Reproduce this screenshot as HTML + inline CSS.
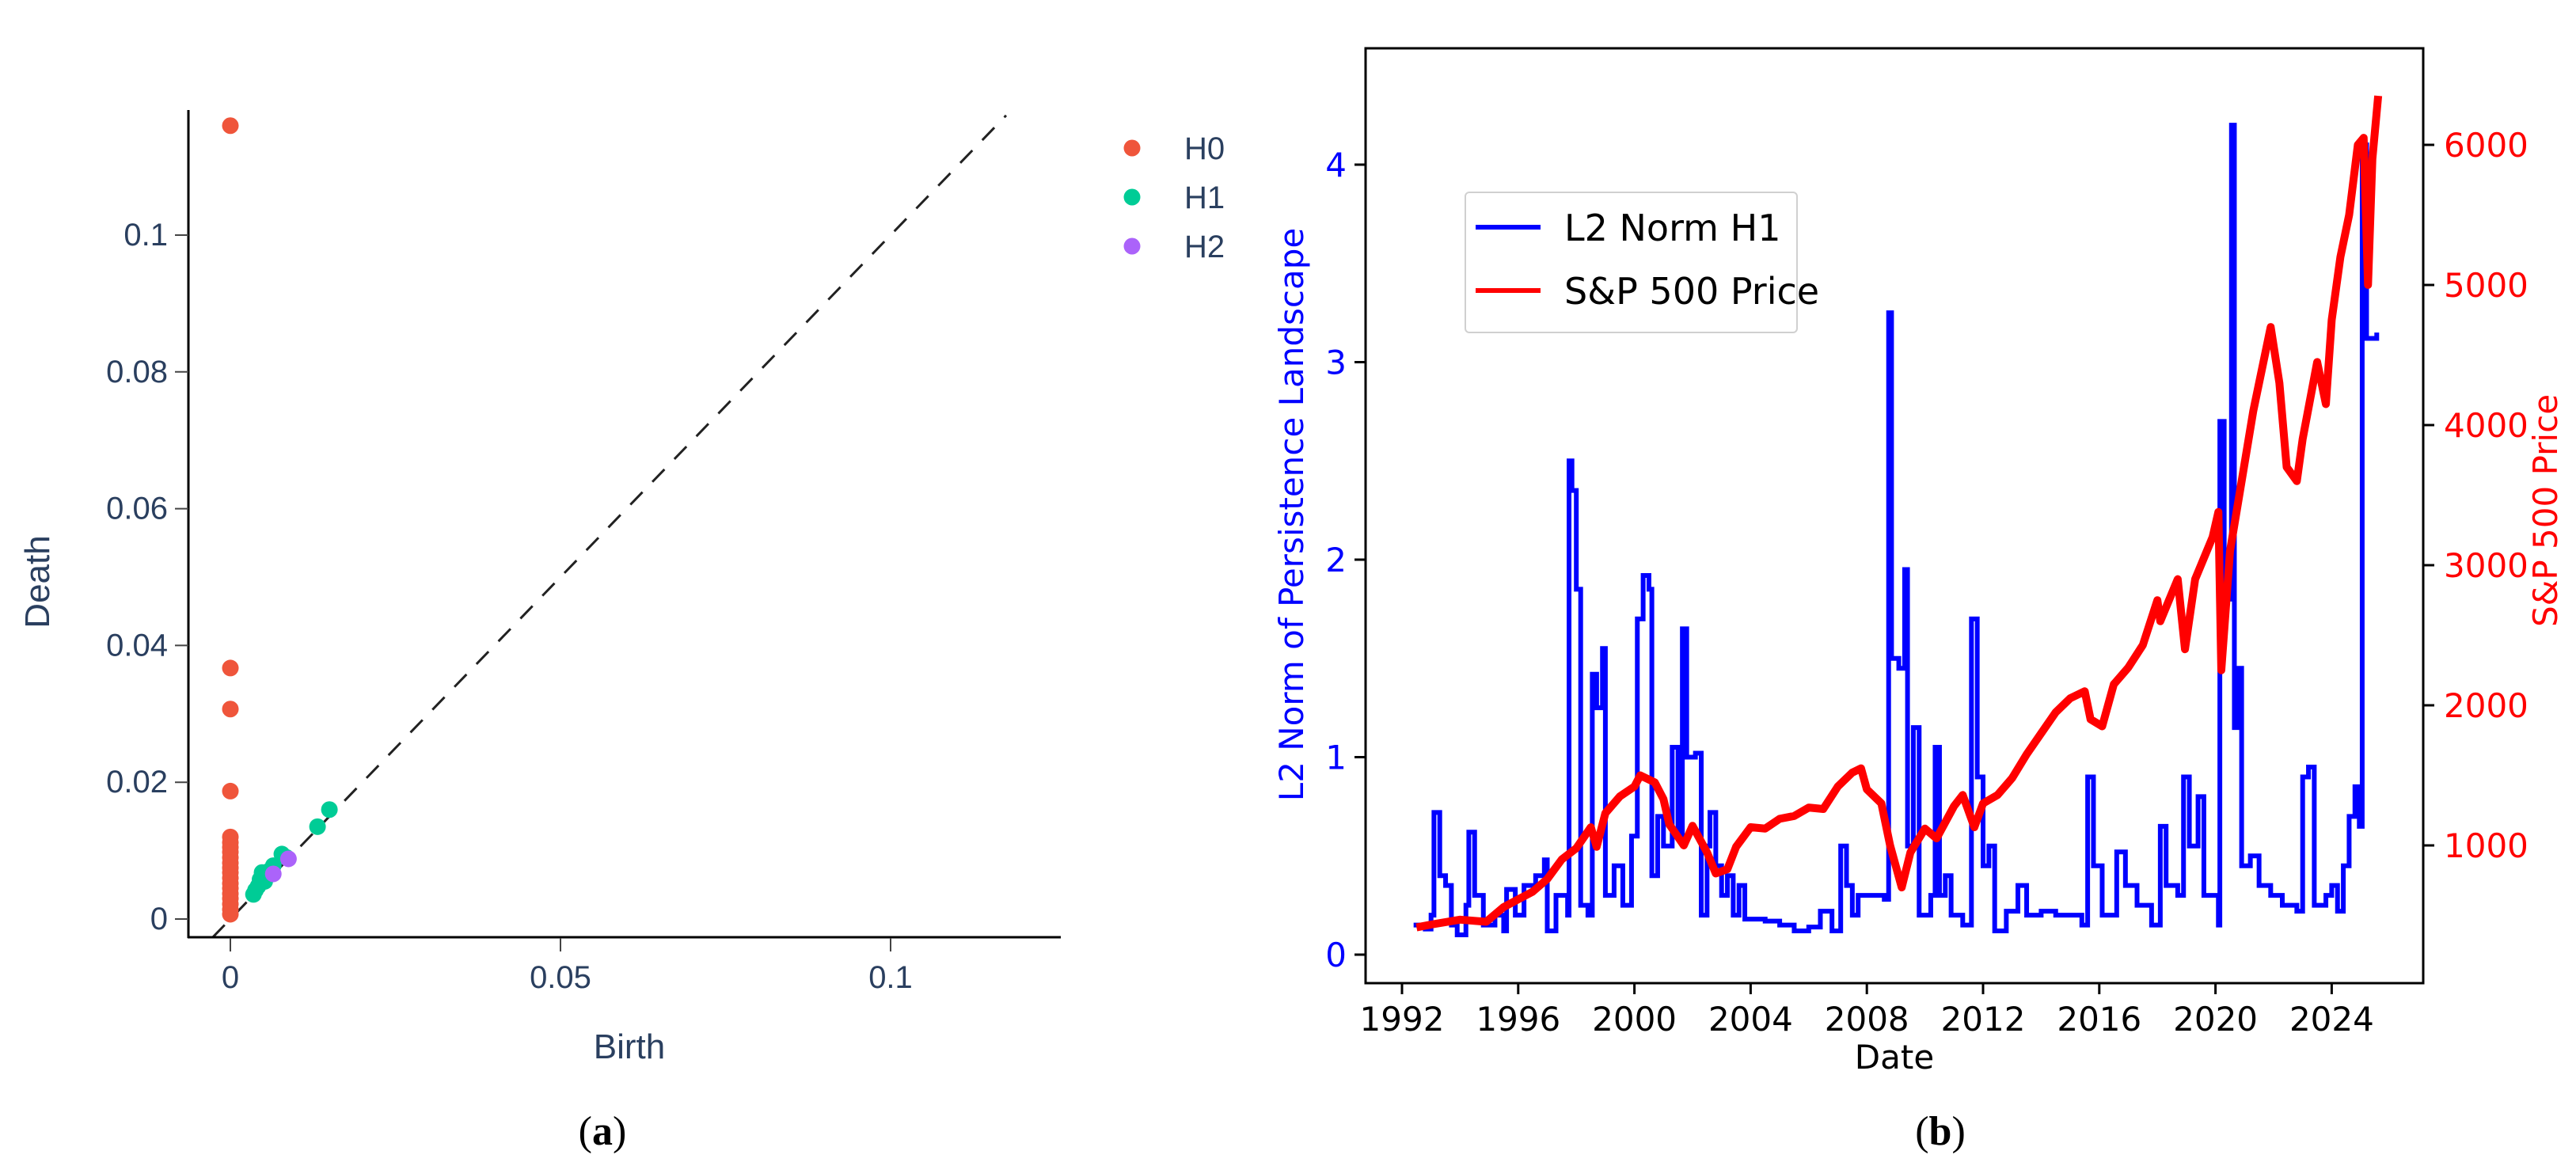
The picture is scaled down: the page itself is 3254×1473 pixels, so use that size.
<!DOCTYPE html>
<html><head><meta charset="utf-8"><style>
html,body{margin:0;padding:0;background:#fff;}
svg{display:block;}
</style></head><body>
<svg id="fig" width="3254" height="1473" viewBox="0 0 3254 1473" xmlns="http://www.w3.org/2000/svg">
<g id="pa"></g>
<g id="pb"></g>
<text x="761" y="1446" text-anchor="middle" font-family="Liberation Serif, serif" font-size="52" fill="#000">(<tspan font-weight="bold">a</tspan>)</text>
<text x="2451" y="1446" text-anchor="middle" font-family="Liberation Serif, serif" font-size="52" fill="#000">(<tspan font-weight="bold">b</tspan>)</text>
</svg>
<script>
// ---------- Panel (a) data ----------
const h0Birth = [0,0,0,0,0,0,0,0,0,0,0,0,0,0,0,0,0,0,0,0];
const h0Death = [0.116,0.0367,0.0307,0.0187,0.012,0.0112,0.0105,0.0098,0.009,0.0082,0.0075,0.0068,0.006,0.0052,0.0045,0.0037,0.003,0.0022,0.0014,0.0007];
const h1Birth = [0.015,0.0132,0.0078,0.0085,0.0065,0.0058,0.0048,0.0052,0.0042,0.0038,0.0035,0.0045];
const h1Death = [0.016,0.0135,0.0095,0.009,0.0078,0.007,0.0068,0.0055,0.0048,0.0042,0.0036,0.0058];
const h2Birth = [0.0088,0.0065];
const h2Death = [0.0088,0.0066];
const aYTicks = [0,0.02,0.04,0.06,0.08,0.1];
const aYLabels = ["0","0.02","0.04","0.06","0.08","0.1"];
const aXTicks = [0,0.05,0.1];
const aXLabels = ["0","0.05","0.1"];

// ---------- Panel (b) data ----------
const l2Years = [1992.4,1992.8,1993.0,1993.1,1993.3,1993.5,1993.7,1993.9,1994.2,1994.3,1994.5,1994.8,1995.2,1995.5,1995.6,1995.9,1996.2,1996.6,1996.9,1997.0,1997.3,1997.7,1997.75,1997.85,1998.0,1998.15,1998.4,1998.55,1998.7,1998.9,1999.0,1999.3,1999.6,1999.9,2000.1,2000.3,2000.5,2000.6,2000.8,2001.0,2001.3,2001.5,2001.65,2001.8,2002.1,2002.3,2002.5,2002.6,2002.8,2003.0,2003.2,2003.4,2003.6,2003.8,2004.5,2005.0,2005.5,2006.0,2006.4,2006.8,2007.1,2007.3,2007.5,2007.7,2008.0,2008.3,2008.6,2008.75,2008.85,2009.1,2009.3,2009.4,2009.6,2009.8,2010.2,2010.35,2010.5,2010.7,2010.9,2011.3,2011.6,2011.8,2012.0,2012.2,2012.4,2012.8,2013.2,2013.5,2014.0,2014.5,2015.0,2015.4,2015.6,2015.8,2016.1,2016.6,2016.9,2017.3,2017.8,2018.1,2018.3,2018.7,2018.9,2019.1,2019.4,2019.6,2020.0,2020.1,2020.15,2020.3,2020.5,2020.55,2020.65,2020.8,2020.9,2021.2,2021.5,2021.9,2022.3,2022.8,2023.0,2023.2,2023.4,2023.8,2024.0,2024.2,2024.4,2024.6,2024.8,2024.95,2025.05,2025.2,2025.55];
const l2Values = [0.15,0.13,0.2,0.72,0.4,0.35,0.15,0.1,0.25,0.62,0.3,0.15,0.2,0.12,0.33,0.2,0.35,0.4,0.48,0.12,0.3,0.2,2.5,2.35,1.85,0.25,0.2,1.42,1.25,1.55,0.3,0.45,0.25,0.6,1.7,1.92,1.85,0.4,0.7,0.55,1.05,0.6,1.65,1.0,1.02,0.2,0.55,0.72,0.45,0.3,0.4,0.2,0.35,0.18,0.17,0.15,0.12,0.14,0.22,0.12,0.55,0.35,0.2,0.3,0.3,0.3,0.28,3.25,1.5,1.45,1.95,0.55,1.15,0.2,0.3,1.05,0.3,0.4,0.2,0.15,1.7,0.9,0.45,0.55,0.12,0.22,0.35,0.2,0.22,0.2,0.2,0.15,0.9,0.45,0.2,0.52,0.35,0.25,0.15,0.65,0.35,0.3,0.9,0.55,0.8,0.3,0.3,0.15,2.7,1.8,1.9,4.2,1.15,1.45,0.45,0.5,0.35,0.3,0.25,0.22,0.9,0.95,0.25,0.3,0.35,0.22,0.45,0.7,0.85,0.65,4.1,3.12,3.15];
const spYears = [1992.5,1993.0,1994.0,1994.9,1995.5,1996.0,1996.5,1997.0,1997.5,1998.0,1998.5,1998.7,1999.0,1999.5,2000.0,2000.2,2000.7,2001.0,2001.2,2001.7,2002.0,2002.5,2002.8,2003.2,2003.5,2004.0,2004.5,2005.0,2005.5,2006.0,2006.5,2007.0,2007.5,2007.8,2008.0,2008.5,2008.8,2009.0,2009.2,2009.5,2010.0,2010.4,2011.0,2011.3,2011.7,2012.0,2012.5,2013.0,2013.5,2014.0,2014.5,2015.0,2015.5,2015.7,2016.1,2016.5,2017.0,2017.5,2018.0,2018.1,2018.7,2018.95,2019.3,2019.9,2020.1,2020.2,2020.5,2020.9,2021.3,2021.9,2022.2,2022.45,2022.8,2023.0,2023.5,2023.8,2024.0,2024.3,2024.6,2024.9,2025.1,2025.25,2025.4,2025.6];
const spValues = [415,435,470,455,560,615,670,760,900,980,1130,990,1230,1350,1420,1500,1450,1330,1150,1000,1140,950,800,830,990,1130,1120,1190,1210,1270,1260,1420,1520,1550,1400,1300,1000,850,700,950,1120,1050,1280,1360,1130,1300,1360,1480,1650,1800,1950,2050,2100,1900,1850,2150,2270,2430,2750,2600,2900,2400,2900,3200,3380,2250,3100,3600,4100,4700,4300,3700,3600,3900,4450,4150,4750,5200,5500,6000,6050,5000,5900,6350];
const bXTicks = [1992,1996,2000,2004,2008,2012,2016,2020,2024];
const bYTicks = [0,1,2,3,4];
const bY2Ticks = [1000,2000,3000,4000,5000,6000];

const NS = "http://www.w3.org/2000/svg";
function mk(parent, tag, attrs, text) {
  const el = document.createElementNS(NS, tag);
  for (const k in attrs) el.setAttribute(k, attrs[k]);
  if (text !== undefined) el.textContent = text;
  parent.appendChild(el);
  return el;
}

// ---------- Panel (a) ----------
(function(){
  const g = document.getElementById('pa');
  const ax = v => 291 + v * 8340;
  const ay = v => 1161 - v * 8640;
  const FONT = "Liberation Sans, DejaVu Sans, sans-serif";
  const TC = "#2a3f5f";
  let el = mk(g, 'line', {x1: ax(-0.0027), y1: ay(-0.0027), x2: ax(0.1175), y2: ay(0.1175), stroke: '#222', 'stroke-width': 3, 'stroke-dasharray': '22 18'});
  
  
  el = mk(g, 'line', {x1: 238, y1: 139, x2: 238, y2: 1185, stroke: '#000', 'stroke-width': 3});
  
  
  el = mk(g, 'line', {x1: 237, y1: 1184, x2: 1340, y2: 1184, stroke: '#000', 'stroke-width': 3});
  
  
  aYTicks.forEach((t, i) => {
    const y = ay(t);
    let tk = mk(g, 'line', {x1: 221, y1: y, x2: 238, y2: y, stroke: '#444', 'stroke-width': 2});
    
    
    let lb = mk(g, 'text', {x: 212, y: y + 13, 'text-anchor': 'end', 'font-family': FONT, 'font-size': 40, fill: TC}, aYLabels[i]);
    
    
  });
  aXTicks.forEach((t, i) => {
    const x = ax(t);
    let tk = mk(g, 'line', {x1: x, y1: 1185, x2: x, y2: 1202, stroke: '#444', 'stroke-width': 2});
    
    
    let lb = mk(g, 'text', {x: x, y: 1248, 'text-anchor': 'middle', 'font-family': FONT, 'font-size': 40, fill: TC}, aXLabels[i]);
    
    
  });
  el = mk(g, 'text', {x: 795, y: 1337, 'text-anchor': 'middle', 'font-family': FONT, 'font-size': 44, fill: TC}, 'Birth');
  
  
  el = mk(g, 'text', {x: 0, y: 0, 'text-anchor': 'middle', 'font-family': FONT, 'font-size': 44, fill: TC, transform: 'translate(62,735) rotate(-90)'}, 'Death');
  
  
  const series = [[h0Birth, h0Death, '#ef553b', 'H0'], [h1Birth, h1Death, '#00cc96', 'H1'], [h2Birth, h2Death, '#ab63fa', 'H2']];
  series.forEach((s, si) => {
    s[0].forEach((b, i) => {
      const c = mk(g, 'circle', {cx: ax(b), cy: ay(s[1][i]), r: 10.5, fill: s[2]});
      
      
    });
    const ly = 187 + si * 62;
    const lc = mk(g, 'circle', {cx: 1430, cy: ly, r: 10.5, fill: s[2]});
    
    
    const lt = mk(g, 'text', {x: 1496, y: ly + 14, 'font-family': FONT, 'font-size': 40, fill: TC}, s[3]);
    
    
  });
})();

// ---------- Panel (b) ----------
(function(){
  const g = document.getElementById('pb');
  const L = 1725, R = 3061, T = 61, B = 1242;
  const bx = yr => 1771 + (yr - 1992) * 36.7;
  const by = v => 1206 - v * 249.5;
  const by2 = v => 183 + (6000 - v) * 0.177;
  const FONT = "DejaVu Sans, Liberation Sans, sans-serif";
  let d = '';
  l2Years.forEach((yr, i) => {
    const x = bx(yr), y = by(l2Values[i]);
    if (i === 0) d += 'M' + x + ' ' + y;
    else d += ' H' + x + ' V' + y;
  });
  let el = mk(g, 'path', {d: d, fill: 'none', stroke: '#0000ff', 'stroke-width': 6, 'stroke-linejoin': 'miter'});
  
  
  let d2 = '';
  spYears.forEach((yr, i) => {
    d2 += (i ? ' L' : 'M') + bx(yr) + ' ' + by2(spValues[i]);
  });
  el = mk(g, 'path', {d: d2, fill: 'none', stroke: '#ff0000', 'stroke-width': 10, 'stroke-linejoin': 'round'});
  
  
  el = mk(g, 'rect', {x: L, y: T, width: R - L, height: B - T, fill: 'none', stroke: '#000', 'stroke-width': 3});
  
  
  bXTicks.forEach(t => {
    const x = bx(t);
    let tk = mk(g, 'line', {x1: x, y1: B, x2: x, y2: B + 14, stroke: '#000', 'stroke-width': 3});
    
    
    let lb = mk(g, 'text', {x: x, y: B + 60, 'text-anchor': 'middle', 'font-family': FONT, 'font-size': 42, fill: '#000'}, String(t));
    
    
  });
  bYTicks.forEach(t => {
    const y = by(t);
    let tk = mk(g, 'line', {x1: L - 14, y1: y, x2: L, y2: y, stroke: '#000', 'stroke-width': 3});
    
    
    let lb = mk(g, 'text', {x: L - 24, y: y + 15, 'text-anchor': 'end', 'font-family': FONT, 'font-size': 42, fill: '#0000ff'}, String(t));
    
    
  });
  bY2Ticks.forEach(t => {
    const y = by2(t);
    let tk = mk(g, 'line', {x1: R, y1: y, x2: R + 14, y2: y, stroke: '#000', 'stroke-width': 3});
    
    
    let lb = mk(g, 'text', {x: R + 26, y: y + 15, 'font-family': FONT, 'font-size': 42, fill: '#ff0000'}, String(t));
    
    
  });
  el = mk(g, 'text', {x: 2393, y: 1350, 'text-anchor': 'middle', 'font-family': FONT, 'font-size': 42, fill: '#000'}, 'Date');
  
  
  el = mk(g, 'text', {x: 0, y: 0, 'text-anchor': 'middle', 'font-family': FONT, 'font-size': 42, fill: '#0000ff', transform: 'translate(1646,650) rotate(-90)'}, 'L2 Norm of Persistence Landscape');
  
  
  el = mk(g, 'text', {x: 0, y: 0, 'text-anchor': 'middle', 'font-family': FONT, 'font-size': 42, fill: '#ff0000', transform: 'translate(3230,645) rotate(-90)'}, 'S&P 500 Price');
  
  
  const lg = mk(g, 'g', {});
  
  
  el = mk(lg, 'rect', {x: 1851, y: 243, width: 419, height: 177, rx: 5, fill: '#fff', 'fill-opacity': 0.85, stroke: '#d0d0d0', 'stroke-width': 2});
  
  
  [['#0000ff', 'L2 Norm H1', 287, 'legend-entry-l2'], ['#ff0000', 'S&P 500 Price', 367, 'legend-entry-sp500']].forEach(e => {
    const ln = mk(lg, 'line', {x1: 1864, y1: e[2], x2: 1946, y2: e[2], stroke: e[0], 'stroke-width': 6});
    
    
    const tx = mk(lg, 'text', {x: 1976, y: e[2] + 17, 'font-family': FONT, 'font-size': 46, fill: '#000'}, e[1]);
    
    
  });
})();
</script>
</body></html>
